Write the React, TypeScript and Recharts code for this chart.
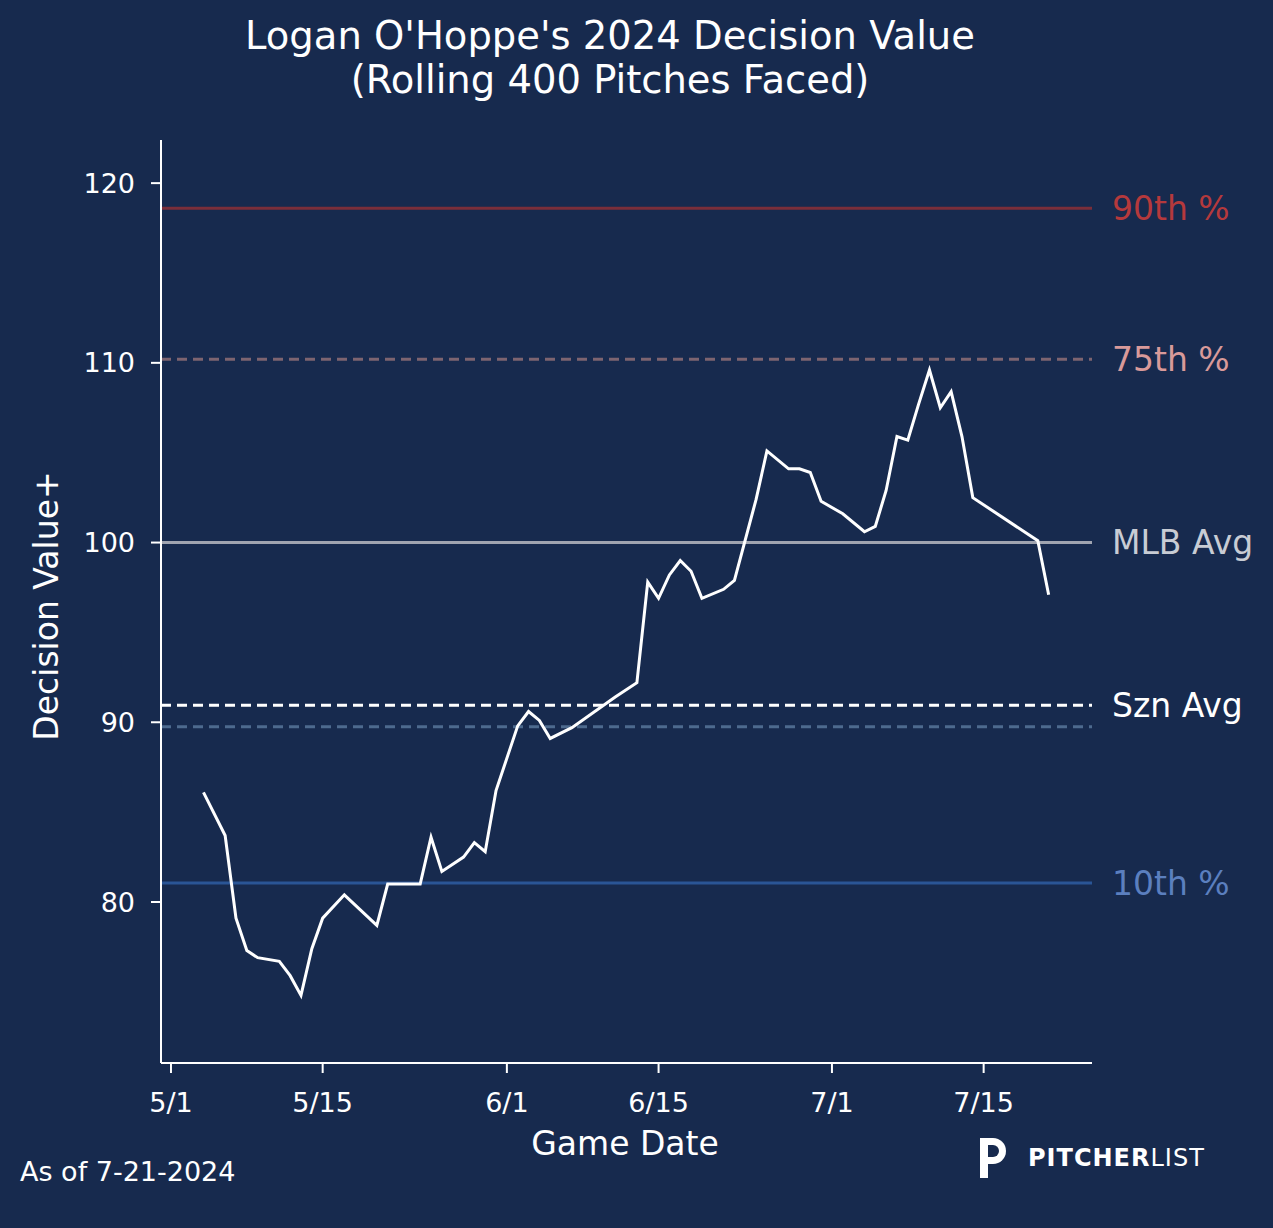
import { LineChart, Line, XAxis, YAxis, ReferenceLine } from "recharts"

// days since 5/1
const days = [3, 5, 6, 7, 8, 10, 11, 12, 13, 14, 16, 19, 20, 23, 24, 25, 27, 28, 29, 30, 32, 33, 34, 35, 37, 41, 43, 44, 45, 46, 47, 48, 49, 51, 52, 54, 55, 57, 58, 59, 60, 62, 64, 65, 66, 67, 68, 69, 70, 71, 72, 73, 74, 80, 81]
const values = [86.1, 83.7, 79.1, 77.3, 76.9, 76.7, 75.9, 74.8, 77.4, 79.1, 80.4, 78.7, 81.0, 81.0, 83.6, 81.7, 82.5, 83.3, 82.8, 86.2, 89.8, 90.6, 90.1, 89.1, 89.7, 91.4, 92.2, 97.8, 96.9, 98.2, 99.0, 98.4, 96.9, 97.4, 97.9, 102.4, 105.1, 104.1, 104.1, 103.9, 102.3, 101.6, 100.6, 100.9, 102.9, 105.9, 105.7, 107.7, 109.6, 107.5, 108.4, 105.9, 102.5, 100.1, 97.1]

const tickDays = [0, 14, 31, 45, 61, 75]
const tickLabels = ["5/1", "5/15", "6/1", "6/15", "7/1", "7/15"]
const yTicks = [80, 90, 100, 110, 120]

const refs = [
    { y: 118.6, label: "90th %", stroke: "#7a2e3a", text: "#b5393c", dash: undefined },
    { y: 110.2, label: "75th %", stroke: "#7d6470", text: "#d99a9a", dash: "10 6" },
    { y: 100, label: "MLB Avg", stroke: "#a0a4b0", text: "#c8ccd4", dash: undefined },
    { y: 90.95, label: "Szn Avg", stroke: "#ffffff", text: "#ffffff", dash: "10 6" },
    { y: 89.75, label: "", stroke: "#4d6a8e", text: "#4d6a8e", dash: "10 6" },
    { y: 81.05, label: "10th %", stroke: "#2a5596", text: "#5b7fbf", dash: undefined },
]

const data = days.map((d, i) => ({ day: d, value: values[i] }))
const bg = "#172a4e"
const font = "DejaVu Sans, sans-serif"

export default function App() {
    return (
        <div style={{ position: "fixed", left: 0, top: 0, width: 1273, height: 1228, background: bg, fontFamily: font, color: "#fff" }}>
            <div style={{ position: "absolute", top: 14, left: 0, width: 1220, textAlign: "center", fontSize: 38.5, lineHeight: "44px" }}>
                Logan O'Hoppe's 2024 Decision Value<br />(Rolling 400 Pitches Faced)
            </div>
            <LineChart width={1273} height={1228} data={data} margin={{ top: 140, left: 81, right: 181, bottom: 105 }}>
                <XAxis dataKey="day" type="number" domain={[-0.92, 85]} ticks={tickDays}
                    tickFormatter={(v: number) => tickLabels[tickDays.indexOf(v)]}
                    height={60} stroke="#fff" strokeWidth={2} tickSize={10} tickMargin={20}
                    tick={{ fill: "#fff", fontSize: 27, fontFamily: font }} />
                <YAxis type="number" domain={[71.04, 122.4]} ticks={yTicks} width={80}
                    stroke="#fff" strokeWidth={2} tickSize={10} tickMargin={16}
                    tick={{ fill: "#fff", fontSize: 27, fontFamily: font }} />
                {refs.map((r, i) => (
                    <ReferenceLine key={i} y={r.y} stroke={r.stroke} strokeWidth={3} strokeDasharray={r.dash}
                        label={r.label ? { value: r.label, position: "right", fill: r.text, fontSize: 33, fontFamily: font, offset: 20 } : undefined} />
                ))}
                <Line dataKey="value" type="linear" stroke="#fff" strokeWidth={3} dot={false} isAnimationActive={false} />
            </LineChart>
            <div style={{ position: "absolute", left: 46, top: 606, transform: "translate(-50%,-50%) rotate(-90deg)", fontSize: 33, whiteSpace: "nowrap" }}>Decision Value+</div>
            <div style={{ position: "absolute", left: 625, top: 1143, transform: "translate(-50%,-50%)", fontSize: 33 }}>Game Date</div>
            <div style={{ position: "absolute", left: 20, top: 1156, fontSize: 27 }}>As of 7-21-2024</div>
            <div style={{ position: "absolute", left: 980, top: 1138, display: "flex", alignItems: "center", gap: 14 }}>
                <div style={{ width: 34, height: 40, position: "relative" }}>
                    <div style={{ position: "absolute", left: 0, top: 0, width: 8, height: 40, background: "#fff" }} />
                    <div style={{ position: "absolute", left: 0, top: 0, width: 26, height: 26, border: "7px solid #fff", borderLeft: "none", borderRadius: "0 16px 16px 0", boxSizing: "border-box" }} />
                </div>
                <div style={{ fontSize: 24, letterSpacing: 1 }}><b>PITCHER</b>LIST</div>
            </div>
        </div>
    )
}
